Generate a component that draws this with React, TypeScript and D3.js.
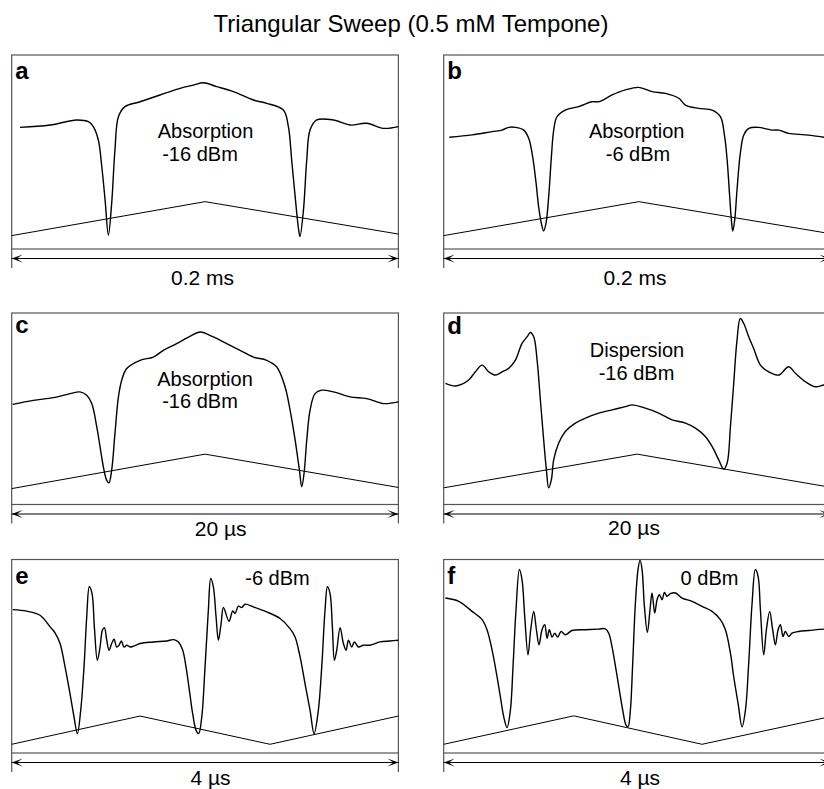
import React, { useEffect, useRef } from 'react'
import * as d3 from 'd3'

type Pt = [number, number]

// time in µs, signal in arbitrary units (0 = bottom of frame, 100 = top)
const traceA: Pt[] = [
  [4.3, 62.7], [19.8, 63.9], [33.6, 66.5], [39.7, 65.6], [42.2, 63.1], [44.8, 56.2],
  [46.6, 42.4], [48.3, 25.3], [50.0, 7.2], [51.7, 23.5], [53.4, 51.0], [55.2, 68.2],
  [58.6, 73.4], [66.4, 75.9], [76.7, 79.4], [87.1, 82.8], [94.0, 84.5], [99.1, 85.7],
  [106.0, 83.7], [114.7, 81.1], [125.0, 76.8], [131.9, 75.1], [140.5, 71.6], [143.1, 63.1],
  [144.8, 45.9], [146.6, 27.0], [148.3, 10.7], [149.1, 6.4], [150.9, 20.1], [152.6, 45.9],
  [154.3, 61.3], [157.8, 66.5], [166.4, 66.5], [175.0, 63.9], [183.6, 64.8], [192.2, 62.2],
  [200, 63.1],
]
const rampA: Pt[] = [[0, 6.9], [100, 24.4], [200, 7.7]]

const traceB: Pt[] = [
  [2.9, 57.6], [14.7, 58.8], [25.0, 60.5], [30.2, 61.3], [33.6, 62.7], [37.1, 62.7],
  [41.4, 61.3], [44.0, 57.0], [46.0, 47.6], [47.8, 33.8], [49.1, 21.8], [50.5, 13.2],
  [51.7, 9.3], [52.9, 13.2], [54.3, 27.0], [55.7, 47.6], [56.9, 61.3], [58.6, 68.2],
  [62.9, 71.6], [69.8, 73.4], [76.7, 75.9], [80.2, 75.9], [87.1, 79.4], [94.0, 82.0],
  [100.9, 83.3], [107.8, 81.1], [114.7, 80.2], [121.6, 77.7], [125.0, 74.2], [131.9, 72.5],
  [138.8, 71.6], [143.1, 68.2], [145.3, 57.9], [146.6, 45.9], [147.8, 28.7], [148.8, 14.9],
  [149.5, 9.3], [150.5, 14.9], [151.7, 30.4], [153.4, 49.3], [155.2, 58.8], [157.8, 62.2],
  [162.9, 62.7], [169.8, 61.3], [173.3, 61.3], [178.4, 59.6], [187.1, 58.8], [196.7, 57.6],
  [200, 57.0],
]
const rampB: Pt[] = [[0, 6.9], [100.9, 24.4], [200, 7.9]]

const traceC: Pt[] = [
  [0.05, 52.3], [1.12, 54.4], [2.16, 55.8], [3.02, 57.9], [3.53, 58.8], [3.88, 57.0],
  [4.14, 52.7], [4.40, 40.5], [4.57, 30.1], [4.74, 19.7], [4.91, 12.7], [5.03, 11.3],
  [5.17, 17.9], [5.34, 37.0], [5.52, 56.2], [5.69, 64.9], [5.95, 71.0], [6.64, 75.3],
  [7.33, 77.0], [7.84, 80.5], [8.53, 84.0], [9.22, 87.8], [9.74, 90.1], [10.43, 87.5],
  [11.12, 84.0], [11.81, 80.5], [12.50, 77.0], [13.19, 75.3], [13.71, 71.8], [14.14, 61.4],
  [14.40, 49.2], [14.66, 33.6], [14.88, 17.9], [15.00, 9.2], [15.12, 16.2], [15.26, 33.6],
  [15.43, 49.2], [15.69, 57.9], [16.03, 59.7], [16.64, 58.8], [17.50, 56.2], [18.36, 55.3],
  [19.22, 52.7], [20.0, 53.6],
]
const rampC: Pt[] = [[0, 8.3], [10, 26.3], [20, 8.9]]

const traceD: Pt[] = [
  [0.09, 63.3], [0.60, 61.9], [0.95, 62.9], [1.29, 65.0], [1.64, 69.3], [1.98, 72.8],
  [2.33, 69.3], [2.67, 67.6], [3.02, 69.3], [3.36, 71.1], [3.71, 75.4], [4.05, 84.1],
  [4.31, 87.5], [4.48, 89.8], [4.66, 87.5], [4.83, 75.4], [5.00, 54.6], [5.17, 33.8],
  [5.31, 18.2], [5.43, 8.7], [5.57, 13.0], [5.69, 23.4], [5.95, 32.1], [6.29, 38.1],
  [6.81, 42.5], [7.33, 45.1], [8.02, 47.7], [8.71, 49.4], [9.40, 51.1], [9.74, 52.0],
  [10.43, 50.3], [11.12, 47.7], [11.81, 44.2], [12.50, 42.5], [13.02, 39.9], [13.53, 35.5],
  [13.88, 30.3], [14.22, 23.4], [14.48, 18.5], [14.66, 21.7], [14.83, 40.7], [15.00, 63.3],
  [15.17, 85.8], [15.34, 97.1], [15.52, 94.5], [15.78, 87.5], [16.03, 81.5], [16.38, 72.8],
  [16.81, 69.3], [17.33, 67.6], [17.84, 71.9], [18.19, 68.5], [18.71, 64.1], [19.22, 61.5],
  [19.67, 62.4], [20.0, 62.4],
]
const rampD: Pt[] = [[0, 8.7], [10, 26.3], [20, 9.0]]

const traceE: Pt[] = [
  [0.010, 74.1], [0.155, 73.3], [0.293, 71.2], [0.397, 65.2], [0.448, 62.1], [0.500, 56.6],
  [0.552, 44.5], [0.603, 30.7], [0.645, 18.6], [0.679, 10.0], [0.714, 22.1], [0.748, 44.5],
  [0.776, 70.3], [0.803, 85.9], [0.831, 82.4], [0.855, 65.2], [0.886, 47.9], [0.914, 54.8],
  [0.938, 63.4], [0.959, 64.8], [0.983, 58.3], [1.007, 53.1], [1.034, 56.6], [1.059, 58.8],
  [1.086, 54.8], [1.110, 55.7], [1.134, 57.9], [1.162, 54.8], [1.190, 55.7], [1.224, 54.8],
  [1.259, 55.2], [1.328, 56.6], [1.466, 57.4], [1.603, 57.9], [1.672, 58.6], [1.724, 57.4],
  [1.769, 53.1], [1.803, 44.5], [1.838, 32.4], [1.872, 20.3], [1.907, 11.7], [1.934, 10.0],
  [1.966, 18.6], [2.000, 44.5], [2.034, 73.8], [2.059, 90.2], [2.086, 85.9], [2.114, 70.3],
  [2.138, 58.3], [2.166, 66.9], [2.190, 75.2], [2.248, 68.1], [2.286, 73.4], [2.310, 72.1],
  [2.345, 75.9], [2.379, 75.2], [2.414, 76.9], [2.500, 75.5], [2.638, 72.9], [2.776, 69.5],
  [2.879, 64.3], [2.931, 60.0], [2.983, 49.7], [3.034, 35.9], [3.086, 22.1], [3.128, 10.0],
  [3.172, 22.1], [3.207, 44.5], [3.241, 73.8], [3.266, 85.9], [3.293, 82.4], [3.317, 65.2],
  [3.338, 47.9], [3.362, 53.1], [3.397, 64.8], [3.431, 56.6], [3.459, 53.1], [3.483, 58.3],
  [3.517, 54.8], [3.545, 57.4], [3.586, 54.8], [3.638, 55.7], [3.707, 55.7], [3.810, 57.4],
  [3.914, 57.9], [4.000, 58.3],
]
const rampE: Pt[] = [[0, 4.5], [1.328, 19.1], [2.672, 4.5], [4.0, 19.1]]

const traceF: Pt[] = [
  [0.017, 80.1], [0.155, 78.4], [0.293, 73.2], [0.397, 68.9], [0.448, 63.7], [0.500, 53.3],
  [0.552, 39.4], [0.586, 29.1], [0.621, 18.7], [0.655, 13.1], [0.690, 22.1], [0.717, 44.6],
  [0.748, 74.0], [0.783, 94.8], [0.810, 89.6], [0.838, 70.6], [0.872, 50.7], [0.900, 63.7],
  [0.931, 73.2], [0.959, 63.7], [0.986, 55.9], [1.017, 63.7], [1.045, 66.3], [1.069, 59.3],
  [1.093, 63.7], [1.121, 59.9], [1.148, 61.9], [1.179, 59.9], [1.214, 62.8], [1.259, 61.1],
  [1.328, 63.3], [1.466, 63.7], [1.603, 64.0], [1.672, 64.2], [1.707, 61.9], [1.741, 55.0],
  [1.783, 42.9], [1.817, 32.5], [1.852, 22.1], [1.886, 14.4], [1.907, 13.5], [1.931, 22.1],
  [1.955, 46.4], [1.983, 77.5], [2.010, 94.8], [2.031, 99.7], [2.052, 94.8], [2.076, 75.8],
  [2.107, 62.3], [2.134, 74.0], [2.155, 82.7], [2.183, 72.3], [2.207, 79.2], [2.231, 81.8],
  [2.259, 79.2], [2.283, 83.0], [2.310, 81.0], [2.345, 82.4], [2.397, 82.7], [2.466, 80.1],
  [2.569, 78.4], [2.672, 75.8], [2.776, 73.2], [2.862, 68.9], [2.914, 63.7], [2.966, 51.6],
  [3.000, 39.4], [3.045, 25.6], [3.086, 13.5], [3.121, 22.1], [3.155, 46.4], [3.190, 77.5],
  [3.224, 94.8], [3.252, 91.3], [3.276, 74.0], [3.310, 50.7], [3.338, 63.7], [3.372, 73.2],
  [3.403, 63.7], [3.431, 55.9], [3.459, 63.7], [3.483, 66.3], [3.510, 60.2], [3.534, 62.8],
  [3.569, 60.2], [3.603, 61.9], [3.672, 62.8], [3.776, 63.3], [3.934, 64.0], [4.0, 64.0],
]
const rampF: Pt[] = [[0, 4.5], [1.345, 19.2], [2.672, 4.5], [4.0, 18.8]]

const traces = [traceA, traceB, traceC, traceD, traceE, traceF]
const ramps = [rampA, rampB, rampC, rampD, rampE, rampF]
const panelLetters = ['a', 'b', 'c', 'd', 'e', 'f']
const sweepSpans = [200, 200, 20, 20, 4, 4]
const sweepLabels = ['0.2 ms', '0.2 ms', '20 µs', '20 µs', '4 µs', '4 µs']
const modeLabels = [
  ['Absorption', '-16 dBm'],
  ['Absorption', '-6 dBm'],
  ['Absorption', '-16 dBm'],
  ['Dispersion', '-16 dBm'],
  ['-6 dBm'],
  ['0 dBm'],
]
const title = 'Triangular Sweep (0.5 mM Tempone)'

// layout (pixels)
const W = 824
const H = 789
const colX = [11.7, 443.7]
const frameW = 386.7
const rowY: [number, number][] = [[55, 249], [313, 504.5], [559.5, 753]]
// label offsets from the frame's top-left corner
const modeLabelPos: [number, number][][] = [
  [[193.8, 83.3], [188.3, 106]],
  [[193, 83.3], [194.3, 106]],
  [[193.3, 73.3], [188.3, 95.3]],
  [[193.3, 44.3], [192.8, 67.3]],
  [[265.8, 25.5]],
  [[265.8, 25.5]],
]
const letterDy = [24, 24, 20, 20.5, 24, 24]
const sweepLabelPos: [number, number][] = [
  [190.8, 36], [191.3, 36], [209, 31], [190.3, 30.5], [198.8, 32], [196.3, 32],
]

const FONT = '"Liberation Sans", Arial, Helvetica, sans-serif'

const App: React.FC = () => {
  const svgRef = useRef<SVGSVGElement>(null)

  useEffect(() => {
    if (!svgRef.current) return
    const svg = d3.select(svgRef.current)
    svg.selectAll('*').remove()

    svg.append('rect').attr('width', W).attr('height', H).attr('fill', '#fff')

    svg.append('text')
      .attr('x', 411)
      .attr('y', 32)
      .attr('text-anchor', 'middle')
      .style('font-family', FONT)
      .style('font-size', '24px')
      .style('fill', '#000')
      .text(title)

    traces.forEach((trace, i) => {
      const x0 = colX[i % 2]
      const [top, bottom] = rowY[Math.floor(i / 2)]
      const x = d3.scaleLinear().domain([0, sweepSpans[i]]).range([x0, x0 + frameW])
      const y = d3.scaleLinear().domain([0, 100]).range([bottom, top])
      const g = svg.append('g')

      // frame
      g.append('rect')
        .attr('x', x0).attr('y', top)
        .attr('width', frameW).attr('height', bottom - top)
        .attr('fill', 'none').attr('stroke', '#555').attr('stroke-width', 1.2)

      // sweep ramp
      const ramp = d3.line<Pt>().x(d => x(d[0])).y(d => y(d[1]))
      g.append('path')
        .attr('d', ramp(ramps[i]))
        .attr('fill', 'none').attr('stroke', '#000').attr('stroke-width', 1)

      // signal
      const line = d3.line<Pt>()
        .x(d => x(d[0]))
        .y(d => y(d[1]))
        .curve(d3.curveCatmullRom.alpha(0.5))
      g.append('path')
        .attr('d', line(trace))
        .attr('fill', 'none').attr('stroke', '#000').attr('stroke-width', 1.4)
        .attr('stroke-linejoin', 'round')

      // span arrow
      const ay = bottom + 9.5
      const xl = x(0)
      const xr = x(sweepSpans[i])
      ;[xl, xr].forEach(xx => {
        g.append('line')
          .attr('x1', xx).attr('x2', xx)
          .attr('y1', bottom).attr('y2', bottom + 19)
          .attr('stroke', '#555').attr('stroke-width', 1.2)
      })
      g.append('line')
        .attr('x1', xl).attr('x2', xr)
        .attr('y1', ay).attr('y2', ay)
        .attr('stroke', '#000').attr('stroke-width', 1.2)
      g.append('path')
        .attr('d', `M${xl + 11},${ay - 4}L${xl},${ay}L${xl + 11},${ay + 4}L${xl + 5},${ay}Z`)
        .attr('fill', '#000')
      g.append('path')
        .attr('d', `M${xr - 11},${ay - 4}L${xr},${ay}L${xr - 11},${ay + 4}L${xr - 5},${ay}Z`)
        .attr('fill', '#000')

      g.append('text')
        .attr('x', x0 + sweepLabelPos[i][0])
        .attr('y', bottom + sweepLabelPos[i][1])
        .attr('text-anchor', 'middle')
        .style('font-family', FONT)
        .style('font-size', '21px')
        .text(sweepLabels[i])

      // panel letter
      g.append('text')
        .attr('x', x0 + 3.5)
        .attr('y', top + letterDy[i])
        .style('font-family', FONT)
        .style('font-size', '24px')
        .style('font-weight', 'bold')
        .text(panelLetters[i])

      modeLabels[i].forEach((label, j) => {
        g.append('text')
          .attr('x', x0 + modeLabelPos[i][j][0])
          .attr('y', top + modeLabelPos[i][j][1])
          .attr('text-anchor', 'middle')
          .style('font-family', FONT)
          .style('font-size', '20px')
          .text(label)
      })
    })
  }, [])

  return (
    <div style={{ position: 'absolute', left: 0, top: 0 }}>
      <svg ref={svgRef} width={W} height={H} style={{ display: 'block' }} />
    </div>
  )
}

export default App
